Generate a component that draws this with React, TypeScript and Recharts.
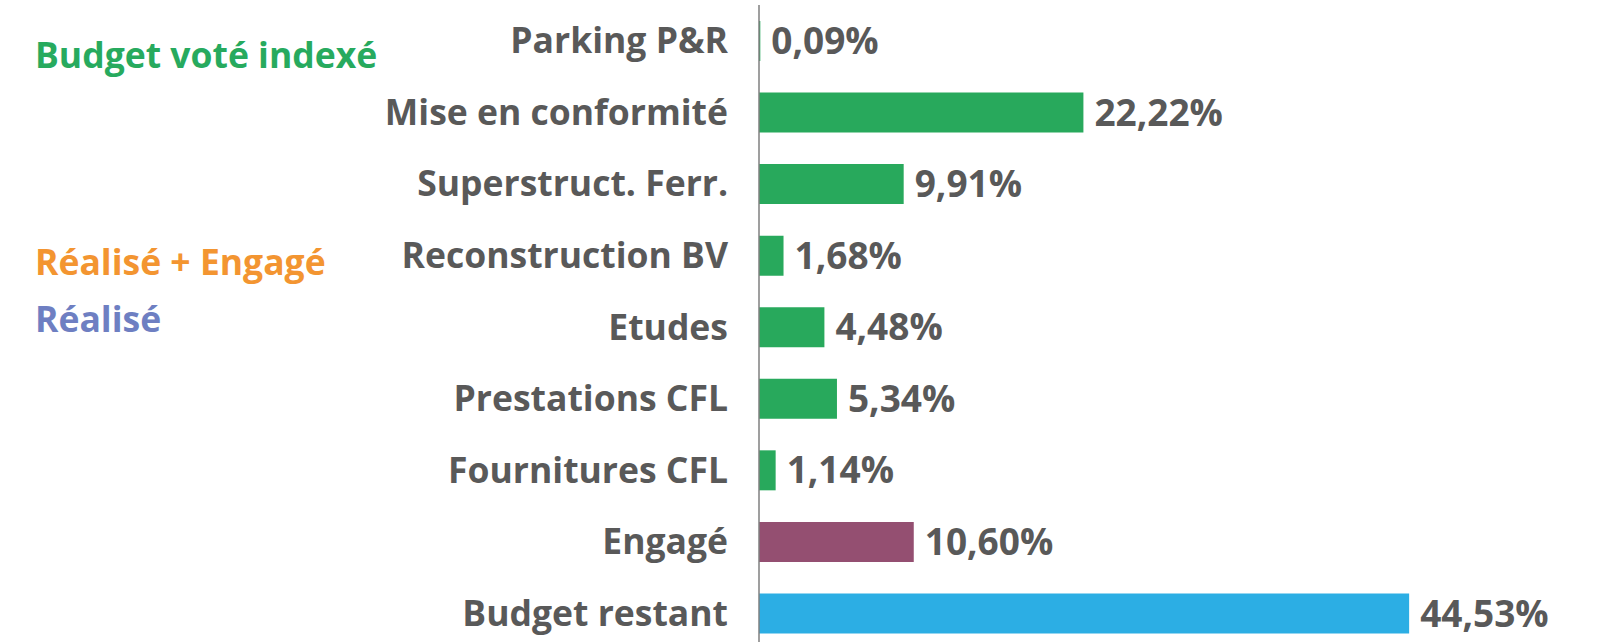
import React from 'react';
import { BarChart, Bar, XAxis, YAxis, Cell, LabelList } from 'recharts';

const categories = [
  'Parking P&R',
  'Mise en conformité',
  'Superstruct. Ferr.',
  'Reconstruction BV',
  'Etudes',
  'Prestations CFL',
  'Fournitures CFL',
  'Engagé',
  'Budget restant',
];
const values = [0.09, 22.22, 9.91, 1.68, 4.48, 5.34, 1.14, 10.6, 44.53];
const barColors = [
  '#28A95C', '#28A95C', '#28A95C', '#28A95C', '#28A95C', '#28A95C', '#28A95C',
  '#944F71',
  '#2CAEE4',
];
const legendTexts = ['Budget voté indexé', 'Réalisé + Engagé', 'Réalisé'];
const legendColors = ['#27AA5E', '#F39531', '#6E7FC2'];

const data = categories.map((name, i) => ({ name, value: values[i] }));

const FONT = "'Open Sans', sans-serif";
const fmt = (v: any) => Number(v).toFixed(2).replace('.', ',') + '%';

export default function App() {
  return (
    <div style={{ position: 'absolute', top: 0, left: 0, width: 1597, height: 642, overflow: 'hidden', background: '#fff' }}>
      <BarChart
        width={1597}
        height={650}
        data={data}
        layout="vertical"
        margin={{ top: 5, right: 108, bottom: 1, left: 0 }}
      >
        <XAxis type="number" domain={[0, 50]} hide />
        <YAxis
          type="category"
          dataKey="name"
          width={759}
          axisLine={{ stroke: '#7F7F7F', strokeWidth: 1.5 }}
          tickLine={false}
          tickSize={0}
          tickMargin={31}
          interval={0}
          tick={{ fill: '#595959', fontSize: 35.5, fontWeight: 700, fontFamily: FONT }}
        />
        <Bar dataKey="value" barSize={40} isAnimationActive={false}>
          {data.map((d, i) => (
            <Cell key={d.name} fill={barColors[i]} />
          ))}
          <LabelList
            dataKey="value"
            position="right"
            offset={11}
            formatter={fmt}
            style={{ fill: '#595959', fontSize: 37, fontWeight: 700, fontFamily: FONT }}
          />
        </Bar>
      </BarChart>
      <svg width={420} height={360} style={{ position: 'absolute', top: 0, left: 0 }}>
        <text x={35} y={68} fill={legendColors[0]} fontSize={35.5} fontWeight={700} fontFamily={FONT}>
          {legendTexts[0]}
        </text>
        <text x={35} y={275} fill={legendColors[1]} fontSize={35.5} fontWeight={700} fontFamily={FONT}>
          {legendTexts[1]}
        </text>
        <text x={35} y={332} fill={legendColors[2]} fontSize={35.5} fontWeight={700} fontFamily={FONT}>
          {legendTexts[2]}
        </text>
      </svg>
    </div>
  );
}
